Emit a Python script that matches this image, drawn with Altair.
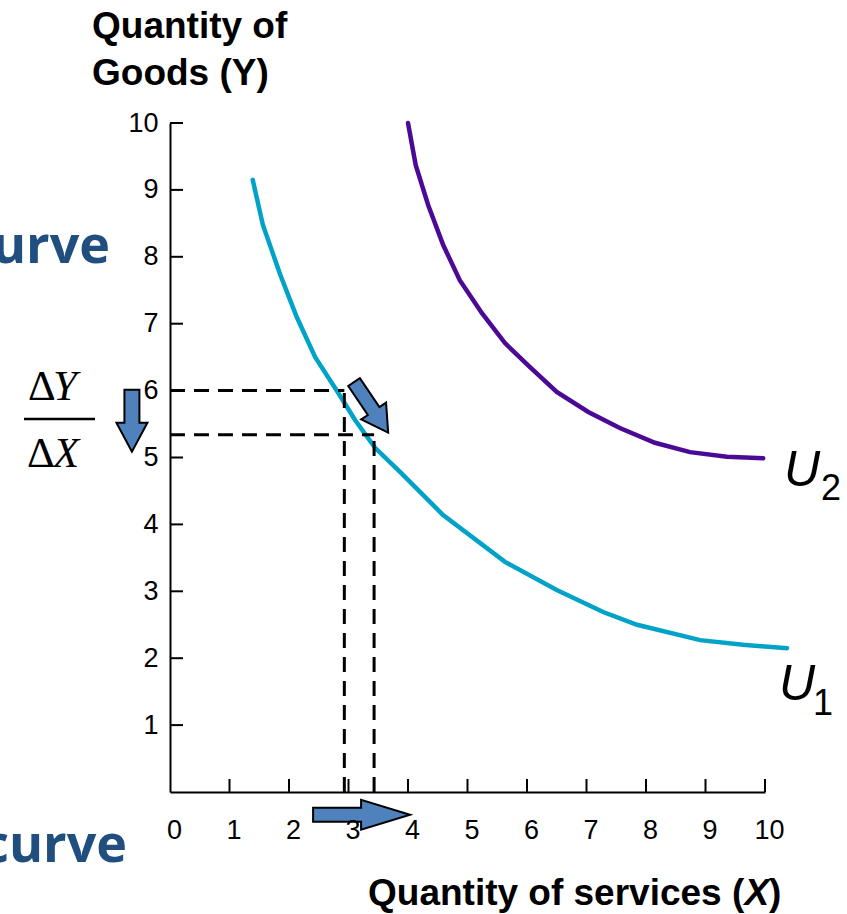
import altair as alt
import pandas as pd

# Indifference curves: U1 (lower) and U2 (higher)
u1_x = [1.39, 1.56, 1.85, 2.13, 2.44, 2.81, 3.11, 3.45, 3.87, 4.59, 5.63, 6.50, 7.28, 7.85, 8.91, 9.63, 10.37]
u1_y = [9.15, 8.48, 7.74, 7.10, 6.50, 5.99, 5.56, 5.14, 4.78, 4.14, 3.44, 3.02, 2.69, 2.50, 2.27, 2.20, 2.15]
u2_x = [4.00, 4.13, 4.34, 4.59, 4.87, 5.24, 5.63, 6.05, 6.50, 7.03, 7.56, 8.15, 8.74, 9.36, 9.97]
u2_y = [10.0, 9.37, 8.77, 8.18, 7.65, 7.16, 6.71, 6.35, 5.98, 5.68, 5.44, 5.22, 5.08, 5.01, 4.99]

# Two bundles on U1, with guide lines dropped to both axes
bundle_x = [2.93, 3.43]
bundle_y = [6.0, 5.34]

# Axis ticks
x_ticks = list(range(0, 11))
y_ticks = list(range(1, 11))

# Arrow anchors (centre of each block arrow)
arrow_dy = (-0.64, 5.55)
arrow_slope = (3.38, 5.75)
arrow_dx = (3.22, -0.34)

W, H = 595, 669
CYAN = "#00A3C7"
PURPLE = "#4B0A96"
ARROW = "#4F81BD"
NAVY = "#1F4E7F"

curves = pd.DataFrame({
    "x": u1_x + u2_x,
    "y": u1_y + u2_y,
    "curve": ["U1"] * len(u1_x) + ["U2"] * len(u2_x),
    "order": list(range(len(u1_x))) + list(range(len(u2_x))),
})

segs = []
for bx, by in zip(bundle_x, bundle_y):
    segs.append({"x": 0.0, "x2": bx, "y": by, "y2": by})
    segs.append({"x": bx, "x2": bx, "y": 0.0, "y2": by})
guides = pd.DataFrame(segs)

xs = alt.Scale(domain=[0, 10], nice=False, zero=False)
ys = alt.Scale(domain=[0, 10], nice=False, zero=False)

x_axis = alt.Axis(values=x_ticks, format="d", title=None, grid=False, domainColor="black",
                  domainWidth=2, ticks=False, labelPadding=25, labelFontSize=27,
                  labelOffset=4, labelFont="Liberation Sans", labelColor="black",
                  labelFlush=False, zindex=1)
y_axis = alt.Axis(values=y_ticks, format="d", title=None, grid=False, domainColor="black",
                  domainWidth=2, ticks=False, labelPadding=12, labelFontSize=27,
                  labelFont="Liberation Sans", labelColor="black", labelFlush=False,
                  zindex=1)

base = alt.Chart(curves).encode(
    x=alt.X("x:Q", scale=xs, axis=x_axis),
    y=alt.Y("y:Q", scale=ys, axis=y_axis),
)

u1_line = base.transform_filter(alt.datum.curve == "U1").mark_line(
    color=CYAN, strokeWidth=4.5, strokeCap="round").encode(order="order:Q")
u2_line = base.transform_filter(alt.datum.curve == "U2").mark_line(
    color=PURPLE, strokeWidth=4.5, strokeCap="round").encode(order="order:Q")

guide_lines = alt.Chart(guides).mark_rule(
    color="black", strokeWidth=3, strokeDash=[15, 9]).encode(
    x=alt.X("x:Q", scale=xs), x2="x2:Q",
    y=alt.Y("y:Q", scale=ys), y2="y2:Q")

# inward tick marks
yt = alt.Chart(pd.DataFrame({"v": y_ticks})).mark_rule(color="black", strokeWidth=2).encode(
    y=alt.Y("v:Q", scale=ys), x=alt.value(0), x2=alt.value(13))
xt = alt.Chart(pd.DataFrame({"v": x_ticks[1:]})).mark_rule(color="black", strokeWidth=2).encode(
    x=alt.X("v:Q", scale=xs), y=alt.value(H), y2=alt.value(H - 13))


def block_arrow(anchor, length, shaft, head, head_len, angle):
    # path units are 10 px when size=400
    L = length / 20.0
    s = shaft / 20.0
    h = head / 20.0
    b = L - head_len / 10.0
    path = (f"M {-L} {-s} L {b} {-s} L {b} {-h} L {L} 0 L {b} {h} "
            f"L {b} {s} L {-L} {s} Z")
    return alt.Chart(pd.DataFrame({"x": [anchor[0]], "y": [anchor[1]]})).mark_point(
        shape=path, size=400, angle=angle, fill=ARROW, stroke="black",
        strokeWidth=2, opacity=1, fillOpacity=1, strokeJoin="miter").encode(
        x=alt.X("x:Q", scale=xs), y=alt.Y("y:Q", scale=ys))


arrows = [
    block_arrow(arrow_dy, 62, 15, 31, 29, 90),
    block_arrow(arrow_slope, 61, 14, 30, 26, 56),
    block_arrow(arrow_dx, 97, 14, 30, 49, 0),
]

one = pd.DataFrame({"a": [0]})


def label(text, px, py, size, align="left", weight="normal", style="normal",
          font="Liberation Sans", color="black"):
    return alt.Chart(one).mark_text(
        text=text, align=align, baseline="alphabetic", fontSize=size,
        fontWeight=weight, fontStyle=style, font=font, color=color).encode(
        x=alt.value(px), y=alt.value(py))


texts = [
    label("Quantity of", -78, -85, 37, weight="bold"),
    label("Goods (Y)", -78, -38, 37, weight="bold"),
    label("Quantity of services (", 198, 782, 37, weight="bold"),
    label("X", 574.5, 782, 37, weight="bold", style="italic"),
    label(")", 599, 782, 37, weight="bold"),
    label("U", 614, 363, 50, style="italic"),
    label("2", 651, 377, 36),
    label("U", 609, 577, 50, style="italic"),
    label("1", 643, 592, 36),
    label("Δ", -142, 277, 43, font="Liberation Serif"),
    label("Y", -117, 277, 43, font="Liberation Serif", style="italic"),
    label("Δ", -143, 344, 43, font="Liberation Serif"),
    label("X", -117, 344, 43, font="Liberation Serif", style="italic"),
    label("curve", -60, 140, 52, align="right", weight="bold", font="Open Sans", color=NAVY),
    label("curve", -43, 739, 52, align="right", weight="bold", font="Open Sans", color=NAVY),
]

frac_bar = alt.Chart(one).mark_rule(color="black", strokeWidth=2.5).encode(
    x=alt.value(-146), x2=alt.value(-75), y=alt.value(296))

chart = alt.layer(
    u1_line, u2_line, guide_lines, yt, xt, *arrows, frac_bar, *texts
).properties(
    width=W, height=H,
    autosize=alt.AutoSizeParams(type="none"),
    padding={"left": 170, "top": 123, "right": 82, "bottom": 122},
).configure(background="white").configure_view(stroke=None)

chart.save("out.html", embed_options={"renderer": "svg", "actions": False})
